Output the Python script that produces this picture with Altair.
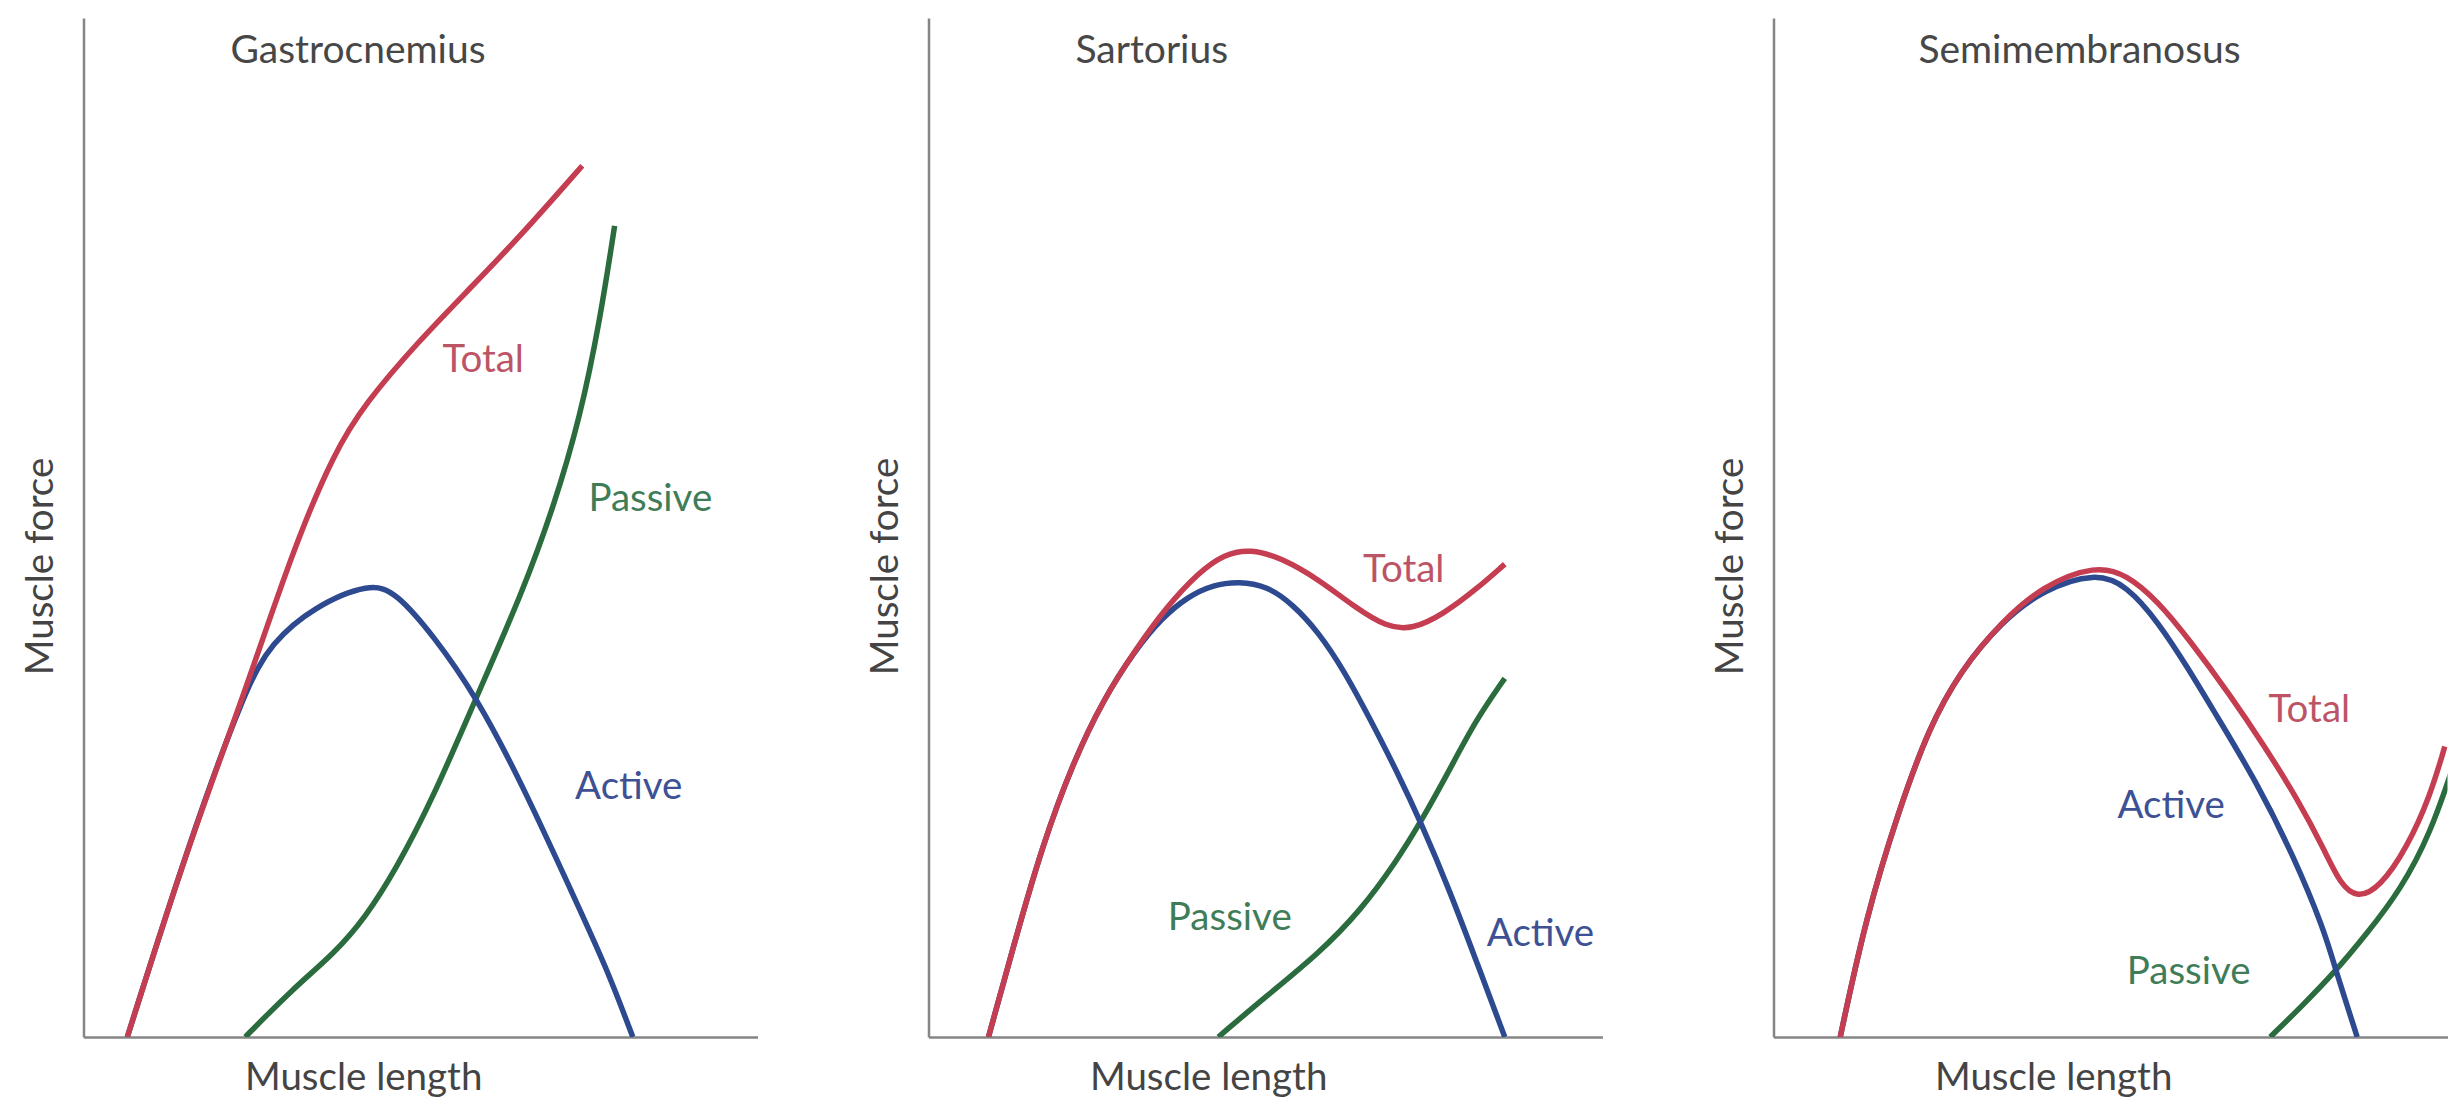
import altair as alt
import pandas as pd

# ---------------- data (relative muscle length 0-100, relative force 0-100) -------------
PANELS = ["Gastrocnemius", "Sartorius", "Semimembranosus"]
SERIES_ORDER = ["Passive", "Active", "Total"]

# Gastrocnemius
g_total_x = [6.5, 15.4, 24.0, 31.0, 37.2, 41.8, 49.6, 57.4, 65.1, 74.0]
g_total_y = [0.0, 18.6, 33.9, 47.7, 57.4, 62.2, 68.2, 73.5, 78.8, 85.5]
g_active_x = [6.5, 15.4, 24.0, 27.9, 34.1, 42.6, 46.4, 51.9, 58.2, 65.1, 72.8, 77.6, 81.5]
g_active_y = [0.0, 18.6, 34.2, 38.7, 42.2, 44.6, 43.6, 39.4, 33.5, 24.8, 13.7, 6.8, 0.0]
g_passive_x = [24.0, 31.0, 37.2, 41.8, 46.4, 51.9, 58.2, 65.1, 69.7, 73.7, 76.7, 78.8]
g_passive_y = [0.0, 4.7, 8.2, 11.7, 16.5, 23.5, 33.2, 43.6, 51.9, 60.8, 70.6, 79.6]

# Sartorius
s_total_x = [8.9, 12.9, 16.8, 21.4, 26.0, 30.7, 35.3, 40.1, 43.9, 47.8, 52.4, 57.9, 63.2, 68.0, 71.8, 76.4, 81.2, 85.5]
s_total_y = [0.0, 9.6, 18.6, 26.9, 33.2, 38.0, 42.2, 45.6, 47.4, 47.9, 47.0, 44.9, 42.2, 40.2, 40.0, 41.5, 43.9, 46.4]
s_active_x = [8.9, 12.9, 16.8, 21.4, 26.0, 30.7, 34.6, 38.4, 42.3, 46.1, 50.1, 54.0, 57.9, 61.7, 65.6, 69.4, 73.3, 77.3, 81.2, 85.5]
s_active_y = [0.0, 9.6, 18.6, 26.9, 33.2, 38.0, 41.1, 43.2, 44.4, 44.7, 44.3, 42.5, 39.7, 35.9, 31.1, 26.2, 20.7, 14.4, 7.6, 0.0]
s_passive_x = [43.0, 50.1, 57.9, 64.1, 69.4, 73.3, 77.3, 81.2, 85.5]
s_passive_y = [0.0, 4.0, 8.2, 12.4, 17.2, 21.4, 26.2, 31.1, 35.2]

# Semimembranosus
m_total_x = [9.9, 13.7, 18.5, 23.1, 27.7, 33.9, 40.0, 47.8, 52.4, 57.0, 61.8, 67.7, 72.8, 77.7, 81.7, 84.1, 86.6, 90.0, 94.0, 97.4, 99.6]
m_total_y = [0.0, 11.7, 22.1, 30.4, 35.9, 40.8, 44.3, 46.3, 45.4, 42.8, 38.9, 33.6, 28.6, 23.4, 18.4, 15.0, 13.6, 14.7, 18.6, 23.6, 28.5]
m_active_x = [9.9, 13.7, 18.5, 23.1, 27.7, 33.9, 40.0, 47.8, 52.4, 57.0, 61.6, 65.4, 71.7, 77.2, 81.7, 83.3, 86.6]
m_active_y = [0.0, 11.7, 22.1, 30.4, 35.9, 40.8, 43.9, 45.6, 44.3, 40.8, 36.1, 31.9, 25.0, 17.7, 10.5, 6.8, 0.0]
m_passive_x = [73.7, 78.2, 83.2, 88.1, 93.0, 97.5, 101.0]
m_passive_y = [0.0, 2.9, 6.3, 10.2, 14.4, 20.0, 26.9]

# curve labels
label_panel = ["Gastrocnemius"] * 3 + ["Sartorius"] * 3 + ["Semimembranosus"] * 3
label_text = ["Total", "Passive", "Active", "Total", "Passive", "Active", "Total", "Active", "Passive"]
label_x = [59.3, 84.1, 80.9, 70.5, 44.7, 90.8, 79.5, 59.0, 61.6]
label_y = [66.4, 52.8, 24.5, 45.8, 11.7, 10.1, 32.1, 22.7, 6.4]

# panel titles (placed inside the plot, top-left)
title_x = [21.8, 21.8, 21.5]
title_y = [96.8, 96.8, 96.8]

# ---------------- styling -------------
LINE_COLORS = {"Total": "#c43d50", "Active": "#2d4a90", "Passive": "#2b6c3e"}
TEXT_COLORS = {"Total": "#bd5466", "Active": "#3d5194", "Passive": "#3f7d59"}
FONT = "Lato"

curves = {
    "Gastrocnemius": {"Total": (g_total_x, g_total_y), "Active": (g_active_x, g_active_y), "Passive": (g_passive_x, g_passive_y)},
    "Sartorius": {"Total": (s_total_x, s_total_y), "Active": (s_active_x, s_active_y), "Passive": (s_passive_x, s_passive_y)},
    "Semimembranosus": {"Total": (m_total_x, m_total_y), "Active": (m_active_x, m_active_y), "Passive": (m_passive_x, m_passive_y)},
}

labels_df = pd.DataFrame({"panel": label_panel, "text": label_text, "x": label_x, "y": label_y})
titles_df = pd.DataFrame({"panel": PANELS, "x": title_x, "y": title_y})

W, H = 674, 1019
xscale = alt.Scale(domain=[0, 100], nice=False, zero=False)
yscale = alt.Scale(domain=[0, 100], nice=False, zero=False)


def panel(name):
    layers = []
    for i, s in enumerate(SERIES_ORDER):
        xs, ys = curves[name][s]
        df = pd.DataFrame({"x": xs, "y": ys, "series": s})
        if i == 0:
            xenc = alt.X("x:Q", scale=xscale,
                         axis=alt.Axis(title="Muscle length", labels=False, ticks=False, grid=False,
                                       domainColor="#858585", domainWidth=2.5,
                                       titleX=161, titleY=40, titleAlign="left", titleBaseline="middle"))
            yenc = alt.Y("y:Q", scale=yscale,
                         axis=alt.Axis(title="Muscle force", labels=False, ticks=False, grid=False,
                                       domainColor="#858585", domainWidth=2.5,
                                       titleX=-43, titleY=548, titleBaseline="middle", titleAlign="center"))
        else:
            xenc = alt.X("x:Q", scale=xscale)
            yenc = alt.Y("y:Q", scale=yscale)
        layers.append(
            alt.Chart(df).mark_line(interpolate="basis", strokeWidth=5.5, color=LINE_COLORS[s], clip=True)
            .encode(x=xenc, y=yenc)
        )
    ldf = labels_df[labels_df["panel"] == name]
    layers.append(
        alt.Chart(ldf).mark_text(font=FONT, fontSize=38.5, align="center", baseline="middle")
        .encode(
            x=alt.X("x:Q", scale=xscale),
            y=alt.Y("y:Q", scale=yscale),
            text="text:N",
            color=alt.Color("text:N",
                            scale=alt.Scale(domain=list(TEXT_COLORS.keys()), range=list(TEXT_COLORS.values())),
                            legend=None),
        )
    )
    tdf = titles_df[titles_df["panel"] == name]
    layers.append(
        alt.Chart(tdf).mark_text(font=FONT, fontSize=39, align="left", baseline="middle", color="#474747")
        .encode(x=alt.X("x:Q", scale=xscale), y=alt.Y("y:Q", scale=yscale), text="panel:N")
    )
    return alt.layer(*layers).properties(width=W, height=H)


chart = alt.hconcat(*[panel(p) for p in PANELS], spacing=109).properties(
    padding={"left": 13.5, "top": 10, "right": 0, "bottom": 0}
).configure_view(stroke=None).configure_axis(
    titleFont=FONT, titleFontSize=38.5, titleFontWeight="normal", titleColor="#444444"
)

chart.save("out.html", embed_options={"renderer": "svg", "actions": False})
